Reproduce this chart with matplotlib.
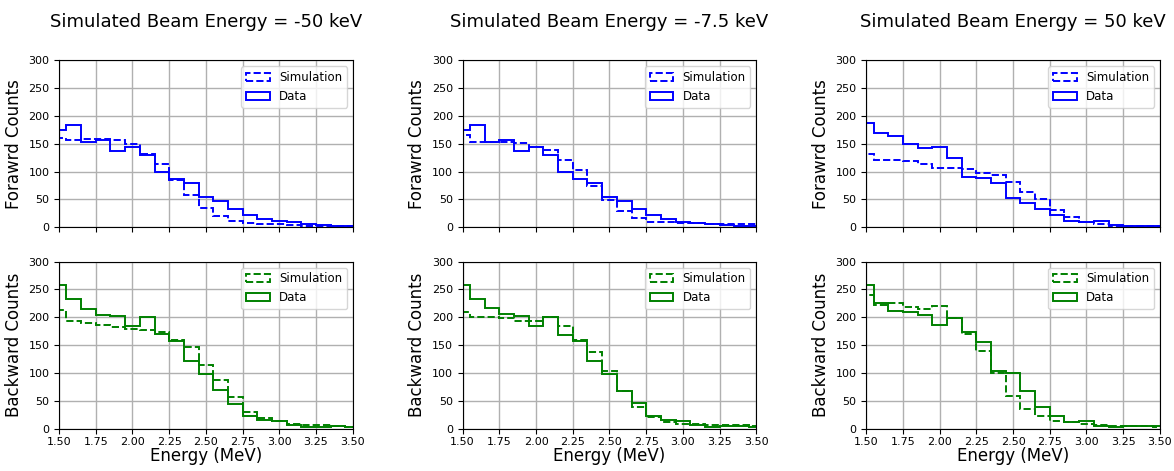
import numpy as np
import matplotlib
matplotlib.use("Agg")
import matplotlib.pyplot as plt

# bin centres (MeV), 0.1 MeV wide
energy = np.round(np.arange(1.5, 3.51, 0.1), 2)
edges = np.round(np.arange(1.45, 3.56, 0.1), 2)

titles = ["Simulated Beam Energy = -50 keV",
          "Simulated Beam Energy = -7.5 keV",
          "Simulated Beam Energy = 50 keV"]

# forward counts
fwd_data_m50 = [175, 184, 153, 156, 137, 145, 129, 100, 86, 79, 55, 48, 32, 22, 15, 11, 9, 5, 4, 2, 2]
fwd_sim_m50 = [161, 157, 158, 158, 157, 149, 132, 113, 85, 58, 35, 20, 11, 8, 6, 5, 4, 3, 2, 2, 2]
fwd_data_m75 = [175, 184, 154, 156, 137, 145, 129, 100, 86, 79, 55, 48, 32, 22, 14, 10, 8, 6, 4, 3, 2]
fwd_sim_m75 = [165, 153, 153, 153, 151, 145, 138, 121, 103, 74, 49, 29, 17, 10, 9, 8, 7, 6, 6, 5, 5]
fwd_data_p50 = [187, 170, 164, 150, 142, 145, 125, 91, 88, 80, 52, 43, 32, 22, 12, 9, 12, 4, 3, 2, 2]
fwd_sim_p50 = [131, 121, 121, 119, 113, 107, 106, 104, 97, 94, 81, 64, 51, 31, 18, 9, 5, 3, 2, 2, 2]

# backward counts
bwd_data_m50 = [258, 232, 215, 205, 203, 184, 201, 170, 158, 122, 98, 69, 45, 22, 16, 14, 7, 3, 3, 4, 3]
bwd_sim_m50 = [214, 194, 190, 186, 183, 179, 177, 173, 160, 147, 114, 88, 56, 30, 19, 13, 8, 6, 6, 5, 3]
bwd_data_m75 = [258, 232, 216, 206, 203, 184, 201, 169, 158, 122, 98, 68, 46, 22, 15, 14, 6, 3, 4, 4, 2]
bwd_sim_m75 = [209, 200, 200, 199, 194, 194, 201, 184, 159, 138, 103, 68, 39, 21, 12, 9, 8, 7, 7, 6, 4]
bwd_data_p50 = [258, 226, 212, 209, 204, 186, 199, 173, 155, 103, 100, 68, 39, 22, 12, 14, 5, 3, 4, 5, 4]
bwd_sim_p50 = [240, 223, 225, 219, 215, 221, 199, 170, 140, 100, 59, 36, 22, 13, 11, 9, 7, 5, 4, 4, 3]

fwd = [(fwd_sim_m50, fwd_data_m50), (fwd_sim_m75, fwd_data_m75), (fwd_sim_p50, fwd_data_p50)]
bwd = [(bwd_sim_m50, bwd_data_m50), (bwd_sim_m75, bwd_data_m75), (bwd_sim_p50, bwd_data_p50)]

fig, axes = plt.subplots(2, 3, figsize=(11.74, 4.71), dpi=100, sharex=True)
fig.subplots_adjust(left=0.0503, right=0.988, top=0.872, bottom=0.09,
                    wspace=0.374, hspace=0.206)

for col in range(3):
    for row, (pair, color, ylab) in enumerate([(fwd[col], "b", "Forawrd Counts"),
                                               (bwd[col], "g", "Backward Counts")]):
        ax = axes[row, col]
        sim, dat = pair
        ax.hist(energy, bins=edges, weights=sim, histtype="step", color=color,
                linestyle="--", linewidth=1.4, label="Simulation")
        ax.hist(energy, bins=edges, weights=dat, histtype="step", color=color,
                linestyle="-", linewidth=1.4, label="Data")
        ax.set_xlim(1.5, 3.5)
        ax.set_ylim(0, 300)
        ax.set_yticks(np.arange(0, 301, 50))
        ax.set_xticks(np.arange(1.5, 3.51, 0.25))
        ax.xaxis.set_major_formatter(matplotlib.ticker.FormatStrFormatter("%.2f"))
        ax.grid(True, color="#b0b0b0", linewidth=1.0)
        ax.set_axisbelow(True)
        ax.tick_params(labelsize=8)
        ax.tick_params(axis="x", pad=2.5)
        ax.set_ylabel(ylab, fontsize=12)
        ax.legend(loc="upper right", fontsize=8.5)
        if row == 1:
            ax.set_xlabel("Energy (MeV)", fontsize=12, labelpad=0)
    axes[0, col].set_title(titles[col], fontsize=13, pad=24)

plt.savefig("out.png", dpi=100)
